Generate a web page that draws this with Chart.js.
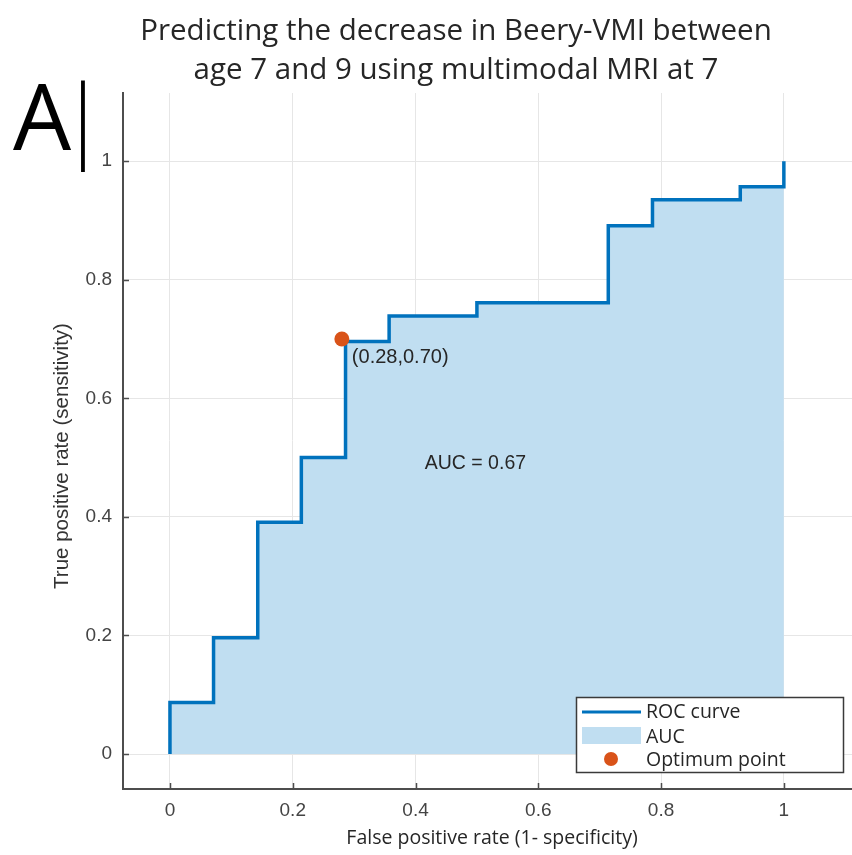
<!DOCTYPE html>
<html>
<head>
<meta charset="utf-8">
<script src="https://cdn.jsdelivr.net/npm/chart.js@4.4.1/dist/chart.umd.min.js"></script>
<style>
  html, body { margin: 0; padding: 0; background: #ffffff; overflow: hidden; }
  #wrap { width: 852px; height: 855px; position: relative; }
</style>
</head>
<body>
<div id="wrap"><canvas id="roc" width="852" height="855"></canvas></div>
<script>
// ---- text ----
const titleLines = ['Predicting the decrease in Beery-VMI between', 'age 7 and 9 using multimodal MRI at 7'];
const panelLetter = 'A';
const panelBar = '|';
const xAxisTitle = 'False positive rate (1- specificity)';
const yAxisTitle = 'True positive rate (sensitivity)';
const seriesNames = ['ROC curve', 'AUC', 'Optimum point'];

// ---- axes ----
const xTicks = [0, 0.2, 0.4, 0.6, 0.8, 1];
const yTicks = [0, 0.2, 0.4, 0.6, 0.8, 1];
const xLimits = [-0.0765, 1.111];
const yLimits = [-0.059, 1.115];

// ---- ROC curve vertices (false positive rate, true positive rate) ----
const rocFpr = [0, 0, 0.071, 0.143, 0.214, 0.286, 0.357, 0.5, 0.714, 0.786, 0.929, 1];
const rocTpr = [0, 0.087, 0.196, 0.391, 0.5, 0.696, 0.739, 0.761, 0.891, 0.935, 0.957, 1];

// ---- optimum operating point and area under curve ----
const optimumFpr = [0.28];
const optimumTpr = [0.70];
const aucValue = 0.67;
const aucLabelAt = [0.415, 0.49];

// ---- styling ----
const BLUE = '#0072BD';
const ORANGE = '#D95319';
const FILL = 'rgb(192,222,241)';
const AXIS = '#4d4d4d';
const GRID = '#e6e6e6';
const TICK_TXT = '#444444';
const TXT = '#262626';
const SANS = '"Liberation Sans", Arial, sans-serif';
const UI = '"Open Sans", "Noto Sans", sans-serif';

const rocPoints = rocFpr.map((x, i) => ({ x, y: rocTpr[i] }));
const optimumPoints = optimumFpr.map((x, i) => ({ x, y: optimumTpr[i] }));

const decor = {
  id: 'decor',
  afterDraw(chart) {
    const ctx = chart.ctx;
    const xs = chart.scales.x, ys = chart.scales.y;
    const area = chart.chartArea;
    ctx.save();

    // inward tick marks
    ctx.strokeStyle = AXIS;
    ctx.lineWidth = 1.5;
    ctx.beginPath();
    xTicks.forEach(v => {
      const px = Math.round(xs.getPixelForValue(v)) + 0.5;
      ctx.moveTo(px, area.bottom);
      ctx.lineTo(px, area.bottom - 6);
    });
    yTicks.forEach(v => {
      const py = Math.round(ys.getPixelForValue(v)) + 0.5;
      ctx.moveTo(area.left, py);
      ctx.lineTo(area.left + 6, py);
    });
    ctx.stroke();

    // title
    ctx.fillStyle = TXT;
    ctx.textAlign = 'center';
    ctx.textBaseline = 'alphabetic';
    ctx.font = '29.5px ' + UI;
    ctx.fillText(titleLines[0], 456, 40);
    ctx.fillText(titleLines[1], 456, 79);

    // panel letter
    ctx.fillStyle = '#000000';
    ctx.textAlign = 'left';
    ctx.font = '92px ' + UI;
    ctx.fillText(panelLetter, 13, 150);
    ctx.textAlign = 'center';
    ctx.font = '300 90px ' + UI;
    ctx.fillText(panelBar, 83, 150);

    // axis titles
    ctx.fillStyle = TXT;
    ctx.font = '19.5px ' + UI;
    ctx.textBaseline = 'middle';
    ctx.fillText(xAxisTitle, 492, 838);
    ctx.save();
    ctx.translate(62, 456);
    ctx.rotate(-Math.PI / 2);
    ctx.font = '20.5px ' + SANS;
    ctx.fillStyle = '#333333';
    ctx.fillText(yAxisTitle, 0, 0);
    ctx.restore();

    // optimum point coordinate label
    ctx.font = '20px ' + SANS;
    ctx.fillStyle = TXT;
    ctx.textAlign = 'left';
    const ox = xs.getPixelForValue(optimumFpr[0]);
    const oy = ys.getPixelForValue(optimumTpr[0]);
    ctx.fillText('(' + optimumFpr[0].toFixed(2) + ',' + optimumTpr[0].toFixed(2) + ')', ox + 10, oy + 18);

    // AUC label
    ctx.font = '19.5px ' + SANS;
    ctx.fillText('AUC = ' + aucValue.toFixed(2), xs.getPixelForValue(aucLabelAt[0]), ys.getPixelForValue(aucLabelAt[1]));

    // legend
    const lx = 576, ly = 697, lw = 267, lh = 75;
    ctx.fillStyle = '#ffffff';
    ctx.fillRect(lx, ly, lw, lh);
    ctx.strokeStyle = '#3a3a3a';
    ctx.lineWidth = 1.5;
    ctx.strokeRect(lx + 0.5, ly + 0.5, lw, lh);
    const ds = chart.data.datasets;
    // ROC curve sample
    ctx.strokeStyle = ds[1].borderColor;
    ctx.lineWidth = 3;
    ctx.beginPath();
    ctx.moveTo(lx + 6, ly + 15);
    ctx.lineTo(lx + 65, ly + 15);
    ctx.stroke();
    // AUC sample
    ctx.fillStyle = ds[2].backgroundColor;
    ctx.fillRect(lx + 6, ly + 30, 59, 17);
    // optimum sample
    ctx.fillStyle = ds[0].backgroundColor;
    ctx.beginPath();
    ctx.arc(lx + 35, ly + 62, 7, 0, Math.PI * 2);
    ctx.fill();
    ctx.fillStyle = TXT;
    ctx.font = '19.5px ' + UI;
    ctx.textAlign = 'left';
    ctx.textBaseline = 'middle';
    ctx.fillText(ds[1].label, lx + 70, ly + 15);
    ctx.fillText(ds[2].label, lx + 70, ly + 40);
    ctx.fillText(ds[0].label, lx + 70, ly + 63);

    ctx.restore();
  }
};

new Chart(document.getElementById('roc'), {
  type: 'scatter',
  data: {
    datasets: [
      {
        label: seriesNames[2],
        data: optimumPoints,
        backgroundColor: ORANGE,
        borderColor: ORANGE,
        pointRadius: 7.5,
        pointBorderWidth: 0,
        order: 0
      },
      {
        label: seriesNames[0],
        data: rocPoints,
        showLine: true,
        stepped: 'before',
        borderColor: BLUE,
        borderWidth: 3.5,
        pointRadius: 0,
        fill: false,
        borderJoinStyle: 'miter',
        order: 1
      },
      {
        label: seriesNames[1],
        data: rocPoints,
        showLine: true,
        stepped: 'before',
        borderWidth: 0,
        borderColor: 'rgba(0,0,0,0)',
        backgroundColor: FILL,
        pointRadius: 0,
        fill: 'origin',
        order: 2
      }
    ]
  },
  options: {
    responsive: false,
    animation: false,
    devicePixelRatio: 1,
    layout: { autoPadding: false, padding: { top: 93, left: 0, right: 0, bottom: 0 } },
    plugins: {
      legend: { display: false },
      title: { display: false },
      tooltip: { enabled: false }
    },
    scales: {
      x: {
        type: 'linear',
        min: xLimits[0],
        max: xLimits[1],
        afterBuildTicks: s => { s.ticks = xTicks.map(v => ({ value: v })); },
        afterFit: s => { s.height = 66; },
        grid: { color: GRID, lineWidth: 1, drawTicks: false },
        border: { display: true, color: AXIS, width: 2 },
        ticks: {
          padding: 10,
          color: TICK_TXT,
          font: { family: SANS, size: 19 },
          callback: v => String(v)
        }
      },
      y: {
        type: 'linear',
        min: yLimits[0],
        max: yLimits[1],
        afterBuildTicks: s => { s.ticks = yTicks.map(v => ({ value: v })); },
        afterFit: s => { s.width = 123; },
        grid: { color: GRID, lineWidth: 1, drawTicks: false },
        border: { display: true, color: AXIS, width: 2 },
        ticks: {
          padding: 11,
          color: TICK_TXT,
          font: { family: SANS, size: 19 },
          callback: v => String(v)
        }
      }
    }
  },
  plugins: [decor]
});
</script>
</body>
</html>
